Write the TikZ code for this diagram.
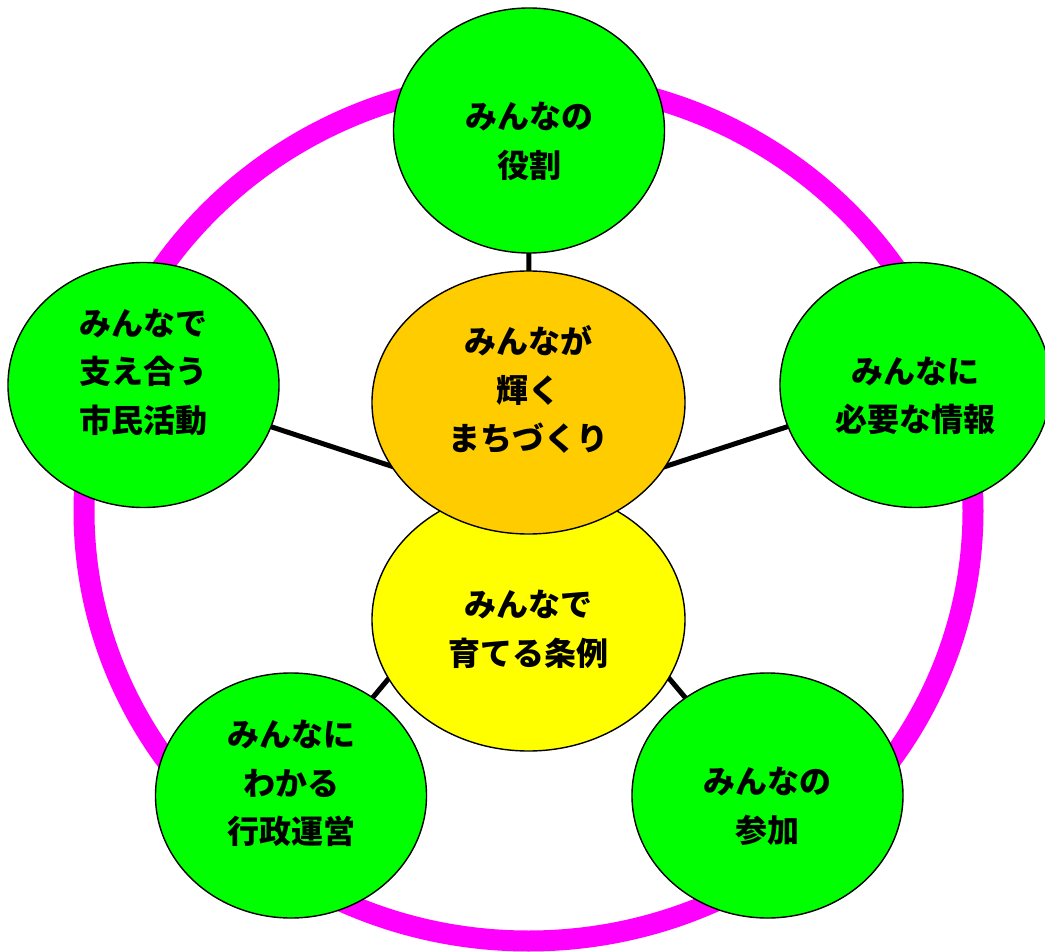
\documentclass[tikz,border=0pt]{standalone}
\usepackage{fontspec}
\setmainfont{Noto Sans CJK JP}
\usetikzlibrary{shapes.geometric,backgrounds,calc}
\definecolor{gsgreen}{HTML}{00FF00}
\definecolor{gsorange}{HTML}{FFCC00}
\definecolor{gsyellow}{HTML}{FFFF00}
\definecolor{gsmagenta}{HTML}{FF00FF}
\begin{document}
\begin{tikzpicture}[x=1pt,y=-1pt,
  bub/.style={ellipse,draw=black,line width=1.4pt,inner sep=0pt,
    minimum width=271pt,minimum height=245pt},
  core/.style={ellipse,draw=black,line width=1.4pt,inner sep=0pt,
    minimum width=313pt,minimum height=263pt},
  txt/.style={font=\fontsize{32}{48.5}\selectfont\bfseries,align=center,text=black,inner sep=0pt},
  link/.style={line width=5pt,draw=black},
  ring/.style={line width=21pt,draw=gsmagenta}]
\useasboundingbox (0,0) rectangle (1045,952);
\coordinate (hub) at (528.5,511);
% green circle nodes
\node[bub,fill=gsgreen] (yaku) at (529,130.5) {};
\node[bub,fill=gsgreen] (sasae) at (143.5,385) {};
\node[bub,fill=gsgreen] (joho) at (915.5,385) {};
\node[bub,fill=gsgreen] (gyosei) at (291,795.5) {};
\node[bub,fill=gsgreen] (sanka) at (767.5,795.5) {};
% centre nodes
\node[core,fill=gsyellow] (jorei) at (528.5,619.5) {};
\node[core,fill=gsorange] (machi) at (528.5,402.5) {};
% texts
\node[txt] (t1) at ($(yaku)+(0,11)$) {みんなの\\役割};
\node[txt] (t2) at ($(sasae)+(0,-13)$) {みんなで\\支え合う\\市民活動};
\node[txt] (t3) at ($(joho)+(0,11)$) {みんなに\\必要な情報};
\node[txt] (t4) at ($(gyosei)+(0,-12)$) {みんなに\\わかる\\行政運営};
\node[txt] (t5) at ($(sanka)+(0,11)$) {みんなの\\参加};
\node[txt] (t6) at ($(machi)+(0,-13)$) {みんなが\\輝く\\まちづくり};
\node[txt] (t7) at ($(jorei)+(0,10)$) {みんなで\\育てる条例};
\begin{pgfonlayer}{background}
\draw[ring] (hub) ellipse [x radius=444.5,y radius=430];
\draw[link] (hub) -- (yaku.center);
\draw[link] (hub) -- (sasae.center);
\draw[link] (hub) -- (joho.center);
\draw[link] (hub) -- (gyosei.center);
\draw[link] (hub) -- (sanka.center);
\end{pgfonlayer}
\end{tikzpicture}
\end{document}
